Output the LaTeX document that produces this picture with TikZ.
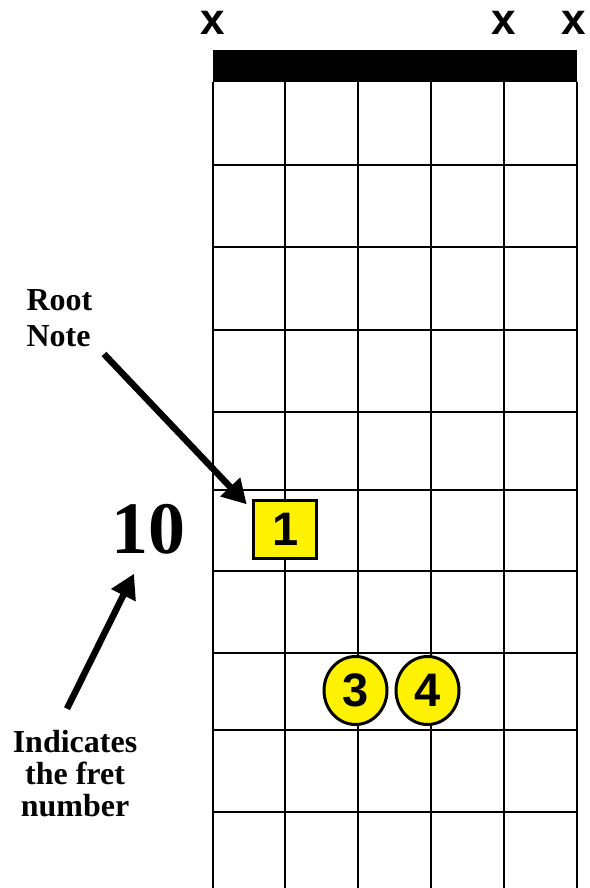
\documentclass[tikz,border=0pt]{standalone}
\usepackage{fontspec}
\setmainfont{Liberation Serif}
\newfontfamily\arialfont{Liberation Sans}
\usetikzlibrary{arrows.meta,shapes.geometric}

\begin{document}
\begin{tikzpicture}[x=1pt, y=-1pt, line width=2pt,
    finger/.style={draw, line width=3pt, fill=yellow, inner sep=0pt,
      font=\arialfont\bfseries\fontsize{47}{47}\selectfont},
    mute/.style={anchor=base, inner sep=0pt,
      font=\arialfont\bfseries\fontsize{44}{44}\selectfont},
    callout/.style={inner sep=0pt, font=\bfseries\fontsize{32}{36}\selectfont},
    pointer/.style={line width=6.5pt, -{Triangle[length=24pt, width=26pt]}}]

  \useasboundingbox (0,0) rectangle (589,888);

  % nut
  \fill (212.5,50) rectangle (577,82);

  % strings
  \foreach \s in {0,...,5}
    \draw (212.5+\s*72.9, 82) -- (212.5+\s*72.9, 888);

  % frets
  \foreach \f in {165,247,330,412,490,571,653,730,812}
    \draw (212.5,\f) -- (577,\f);

  % muted strings
  \node[mute] (mute1) at (212.5,35) {x};
  \node[mute] (mute5) at (504,35) {x};
  \node[mute] (mute6) at (574,35) {x};

  % fingers
  \node[finger, rectangle, minimum width=63pt, minimum height=58pt] (root) at (285.3,529) {1};
  \node[finger, ellipse, minimum width=63pt, minimum height=68pt] (ring) at (355.5,690.5) {3};
  \node[finger, ellipse, minimum width=63pt, minimum height=68pt] (pinky) at (427.5,690.5) {4};

  % fret number
  \node[inner sep=0pt, anchor=base, font=\bfseries\fontsize{74}{74}\selectfont] (fretnum) at (148.4,553) {10};

  % labels
  \node[callout, align=left] (rootlabel) at (59.5,318.5) {Root\\Note};
  \node[callout, align=center, font=\bfseries\fontsize{32}{32}\selectfont] (fretlabel) at (75,774) {Indicates\\the fret\\number};

  % arrows
  \draw[pointer] ([shift={(10.6,5.9)}]rootlabel.south east) -- ([shift={(-5.6,5.8)}]root.north west);
  \draw[pointer] ([shift={(-8,-21)}]fretlabel.north) -- ([shift={(-14.4,19)}]fretnum.south);

\end{tikzpicture}
\end{document}
